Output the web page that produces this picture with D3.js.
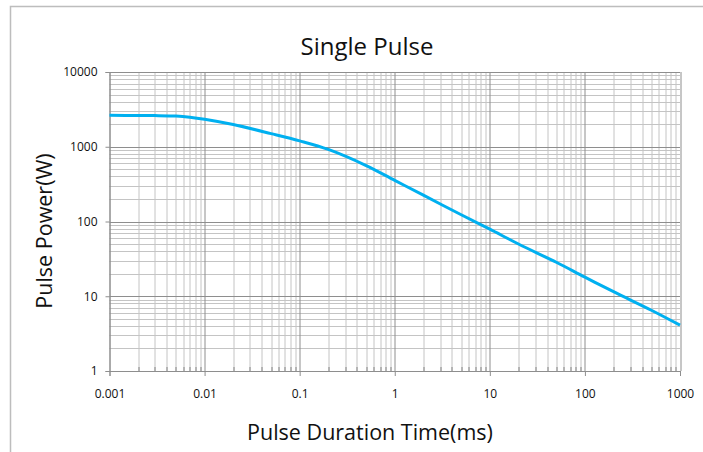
<!DOCTYPE html>
<html>
<head>
<meta charset="utf-8">
<script src="https://cdn.jsdelivr.net/npm/d3@7"></script>
<style>
  body { margin: 0; background: #fff; }
  text { font-family: "Open Sans", sans-serif; fill: #111; }
</style>
</head>
<body>
<div id="chart"></div>
<script>
// pulse duration (ms) and pulse power (W)
const durations = [0.001, 0.002, 0.003, 0.005, 0.007, 0.01, 0.02, 0.05, 0.1, 0.2, 0.5, 1, 2, 5, 10, 20, 50, 100, 200, 500, 1000];
const powers = [2630, 2620, 2610, 2570, 2480, 2330, 1980, 1500, 1200, 920, 560, 355, 225, 123, 79, 50, 28.5, 18, 11.5, 6.5, 4.1];

const xTicks = [0.001, 0.01, 0.1, 1, 10, 100, 1000];
const xTickLabels = ["0.001", "0.01", "0.1", "1", "10", "100", "1000"];
const yTicks = [1, 10, 100, 1000, 10000];
const yTickLabels = ["1", "10", "100", "1000", "10000"];

const W = 703, H = 452;
const margin = { top: 72, right: 23, bottom: 81, left: 109.5 };
const width = W - margin.left - margin.right;
const height = H - margin.top - margin.bottom;

const root = d3.select("#chart").append("svg")
  .attr("width", W)
  .attr("height", H);

// outer frame (only top and left edges are visible)
root.append("path")
  .attr("d", `M10.5,${H} L10.5,6.5 L${W},6.5`)
  .attr("fill", "none")
  .attr("stroke", "#bdbdbd")
  .attr("stroke-width", 1.5);

const svg = root.append("g")
  .attr("transform", `translate(${margin.left},${margin.top})`);

const x = d3.scaleLog().domain([0.001, 1000]).range([0, width]);
const y = d3.scaleLog().domain([1, 10000]).range([height, 0]);

// minor values 2..9 within each decade
const minor = (lo, hi) => {
  const out = [];
  for (let d = lo; d < hi; d *= 10) for (let k = 2; k <= 9; k++) out.push(d * k);
  return out;
};
const xMinor = minor(0.001, 1000);
const yMinor = minor(1, 10000);

const grid = svg.append("g");
grid.selectAll(".xm").data(xMinor).enter().append("line")
  .attr("x1", d => Math.round(x(d)) + 0.5).attr("x2", d => Math.round(x(d)) + 0.5)
  .attr("y1", 0).attr("y2", height)
  .attr("stroke", "#c4c4c4");
grid.selectAll(".ym").data(yMinor).enter().append("line")
  .attr("y1", d => Math.round(y(d)) + 0.5).attr("y2", d => Math.round(y(d)) + 0.5)
  .attr("x1", 0).attr("x2", width)
  .attr("stroke", "#c4c4c4");
grid.selectAll(".xM").data(xTicks).enter().append("line")
  .attr("x1", d => Math.round(x(d)) + 0.5).attr("x2", d => Math.round(x(d)) + 0.5)
  .attr("y1", 0).attr("y2", height)
  .attr("stroke", "#8e8e8e");
grid.selectAll(".yM").data(yTicks).enter().append("line")
  .attr("y1", d => Math.round(y(d)) + 0.5).attr("y2", d => Math.round(y(d)) + 0.5)
  .attr("x1", 0).attr("x2", width)
  .attr("stroke", "#8e8e8e");

// small inward minor ticks on the bottom axis
svg.append("g").selectAll("line").data(xMinor).enter().append("line")
  .attr("x1", d => Math.round(x(d)) + 0.5).attr("x2", d => Math.round(x(d)) + 0.5)
  .attr("y1", height).attr("y2", height - 4)
  .attr("stroke", "#888");

const xAxis = svg.append("g")
  .attr("transform", `translate(0,${height})`)
  .call(d3.axisBottom(x).tickValues(xTicks).tickFormat((d, i) => xTickLabels[i]).tickSize(5).tickPadding(13));
const yAxis = svg.append("g")
  .call(d3.axisLeft(y).tickValues(yTicks).tickFormat((d, i) => yTickLabels[i]).tickSize(4).tickPadding(8));

[xAxis, yAxis].forEach(a => {
  a.select(".domain").attr("stroke", "#8e8e8e");
  a.selectAll(".tick line").attr("stroke", "#8e8e8e");
  a.selectAll(".tick text")
    .attr("font-family", "'Open Sans', sans-serif")
    .attr("font-size", 12)
    .attr("fill", "#111");
});

const line = d3.line()
  .x((d, i) => x(durations[i]))
  .y(d => y(d))
  .curve(d3.curveCatmullRom.alpha(0.5));

svg.append("path")
  .datum(powers)
  .attr("fill", "none")
  .attr("stroke", "#00b0f0")
  .attr("stroke-width", 3)
  .attr("d", line);

root.append("text")
  .attr("x", 367).attr("y", 55)
  .attr("text-anchor", "middle")
  .style("font-size", "24px")
  .text("Single Pulse");

root.append("text")
  .attr("x", 370).attr("y", 440)
  .attr("text-anchor", "middle")
  .style("font-size", "21.5px")
  .text("Pulse Duration Time(ms)");

root.append("text")
  .attr("transform", "translate(52,231) rotate(-90)")
  .attr("text-anchor", "middle")
  .style("font-size", "21.5px")
  .text("Pulse Power(W)");
</script>
</body>
</html>
